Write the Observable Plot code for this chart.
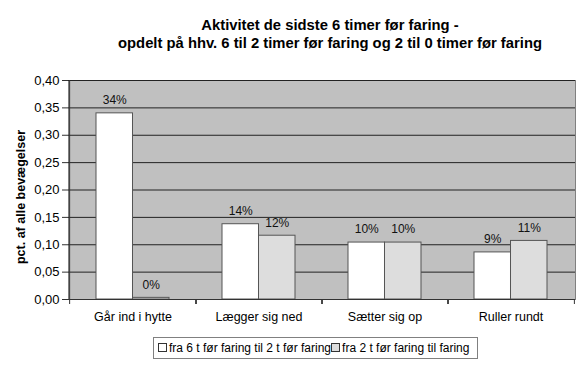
<!DOCTYPE html>
<html>
<head>
<meta charset="utf-8">
<script src="https://cdn.jsdelivr.net/npm/d3@7"></script>
<script src="https://cdn.jsdelivr.net/npm/@observablehq/plot@0.6"></script>
<style>
  body { margin: 0; background: #fff; font-family: "Liberation Sans", Arial, sans-serif; }
  #wrap { width: 585px; height: 367px; position: relative; }
  #title { height: 36px; padding-top: 16px; padding-left: 75px; text-align: center; font-weight: bold; font-size: 14.8px; line-height: 18px; color: #000; }
  #legend { position: absolute; left: 153px; top: 337px; width: 323px; height: 20px; border: 1px solid #808080; font-size: 12px; line-height: 20px; white-space: nowrap; color: #000; }
  .sw { display: inline-block; width: 7px; height: 7px; border: 1px solid #333; margin: 0 2px 0 4px; vertical-align: 0px; }
  .sw2 { margin-left: 0; }
</style>
</head>
<body>
<div id="wrap">
  <div id="title">Aktivitet de sidste 6 timer før faring -<br>opdelt på hhv. 6 til 2 timer før faring og 2 til 0 timer før faring</div>
  <div id="chart"></div>
  <div id="legend"></div>
</div>
<script>
const categories = ["Går ind i hytte", "Lægger sig ned", "Sætter sig op", "Ruller rundt"];
const seriesNames = ["fra 6 t før faring til 2 t før faring", "fra 2 t før faring til faring"];
const series1 = [0.340, 0.1375, 0.104, 0.086];
const series2 = [0.003, 0.1165, 0.104, 0.107];
const labels1 = ["34%", "14%", "10%", "9%"];
const labels2 = ["0%", "12%", "10%", "11%"];
const yTicks = [0, 0.05, 0.10, 0.15, 0.20, 0.25, 0.30, 0.35, 0.40];
const seriesColors = ["#ffffff", "#dddddd"];

const d1 = categories.map((c, i) => ({cat: c, v: series1[i], label: labels1[i]}));
const d2 = categories.map((c, i) => ({cat: c, v: series2[i], label: labels2[i]}));

const width = 585, height = 284;
const marginLeft = 68, marginRight = 10, marginTop = 28, marginBottom = 37;
const step = (width - marginLeft - marginRight) / categories.length;
const pad = 0.424;
const band = step * (1 - pad);
const half = band / 2;

const fmt = d => d3.format(".2f")(d).replace(".", ",");

const chart = Plot.plot({
  width, height, marginLeft, marginRight, marginTop, marginBottom,
  style: {fontFamily: "'Liberation Sans', Arial, sans-serif", fontSize: "13px", color: "#000", background: "transparent"},
  x: {domain: categories, paddingInner: pad, paddingOuter: pad / 2, align: 0.5, label: null},
  y: {domain: [0, 0.4], label: null},
  marks: [
    Plot.frame({fill: "#c0c0c0", stroke: "#808080"}),
    Plot.ruleY(yTicks, {stroke: "#222", strokeWidth: 1}),
    Plot.barY(d1, {x: "cat", y: "v", fill: seriesColors[0], stroke: "#555", strokeWidth: 1, insetRight: half}),
    Plot.barY(d2, {x: "cat", y: "v", fill: seriesColors[1], stroke: "#555", strokeWidth: 1, insetLeft: half}),
    Plot.text(d1, {x: "cat", y: "v", text: "label", dx: -half / 2, dy: -13, fontSize: 12, fill: "#111"}),
    Plot.text(d2, {x: "cat", y: "v", text: "label", dx: half / 2, dy: -13, fontSize: 12, fill: "#111"}),
    Plot.axisY({ticks: yTicks, tickFormat: fmt, tickSize: 6, tickPadding: 3, fontSize: 13, label: null, stroke: "#333"}),
    Plot.axisX({tickSize: 0, tickPadding: 13, fontSize: 12.5, label: null}),
    Plot.axisX({tickSize: 5, tickFormat: () => "", dx: step / 2, stroke: "#333"}),
    Plot.axisX({tickSize: 5, tickFormat: () => "", dx: -step / 2, stroke: "#333"}),
    Plot.ruleY([0], {stroke: "#333"}),
    Plot.ruleX([categories[0]], {dx: -step / 2, stroke: "#333"}),
    Plot.text(["pct. af alle bevægelser"], {frameAnchor: "left", textAnchor: "middle", dx: -48, dy: 7, rotate: -90, fontWeight: "bold", fontSize: 12.5, fill: "#000"})
  ]
});
document.getElementById("chart").appendChild(chart);

const leg = document.getElementById("legend");
seriesNames.forEach((name, i) => {
  const sw = document.createElement("span");
  sw.className = "sw" + (i > 0 ? " sw2" : "");
  sw.style.background = seriesColors[i];
  leg.appendChild(sw);
  leg.appendChild(document.createTextNode(name));
});
</script>
</body>
</html>
